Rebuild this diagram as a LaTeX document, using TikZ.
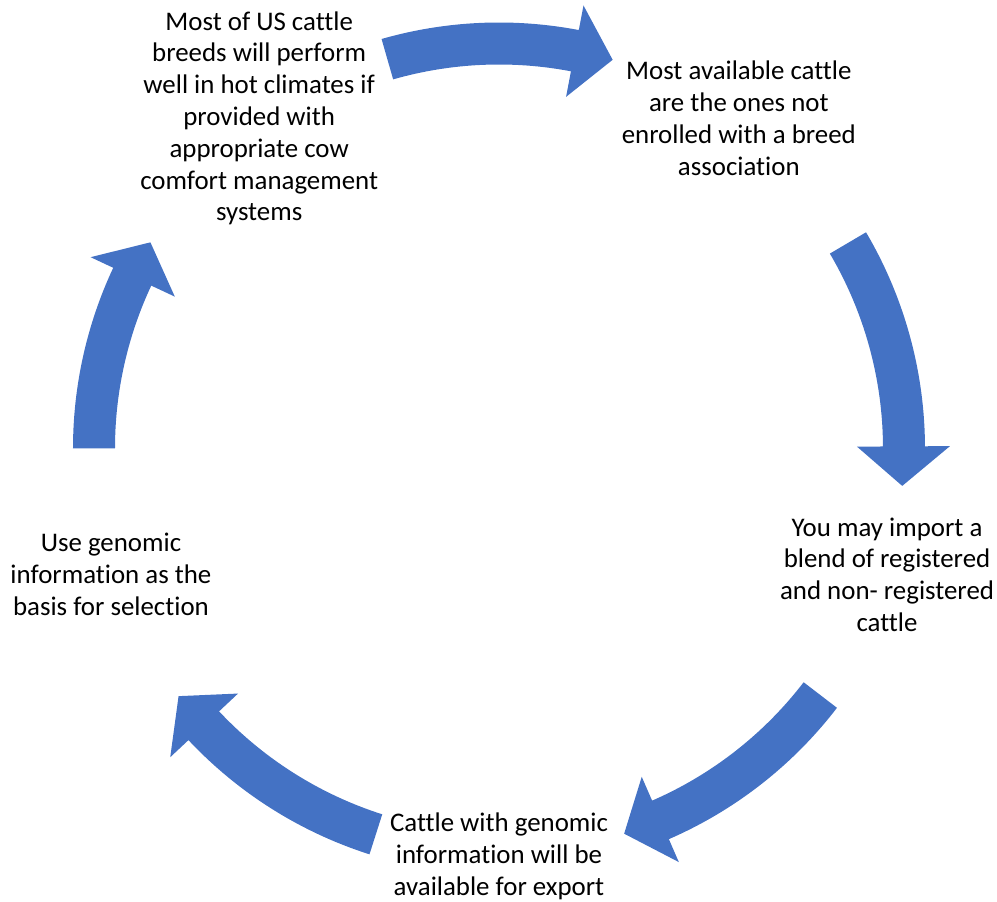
\documentclass[tikz,border=0pt]{standalone}
\usepackage{fontspec}
\setmainfont[Ligatures=NoCommon]{Carlito}
\definecolor{arrowblue}{HTML}{4472C4}

\begin{document}
\begin{tikzpicture}[x=0.02cm, y=0.02cm, font=\fontsize{15.3}{18.1}\selectfont,
    steptext/.style={align=center, inner sep=0pt},
    cyclearrow/.style={fill=arrowblue}]

\useasboundingbox (-499,-453.5) rectangle (498,448.5);

\node[steptext] (breeds) at (126:408) {Most of US cattle\\breeds will perform\\well in hot climates if\\provided with\\appropriate cow\\comfort management\\systems};
\node[steptext] (available) at (54:408) {Most available cattle\\are the ones not\\enrolled with a breed\\association};
\node[steptext] (import) at (-18:408) {You may import a\\blend of registered\\and non- registered\\cattle};
\node[steptext] (export) at (-90:408) {Cattle with genomic\\information will be\\available for export};
\node[steptext] (genomic) at (198:408) {Use genomic\\information as the\\basis for selection};

% block arrows round the cycle: tail / tip / head base angles
\foreach \tail/\tip/\base in {106/73.7/79.2, 30.5/-5.3/0.3, -37.5/-72/-66.5, 252.3/217.7/223.2, 180/149.4/154.9}
  \fill[cyclearrow] (\tail:426) arc[start angle=\tail, end angle=\base, radius=426]
    -- (\base:451) -- (\tip:405) -- (\base:358) -- (\base:384)
    arc[start angle=\base, end angle=\tail, radius=384] -- cycle;

\end{tikzpicture}
\end{document}
